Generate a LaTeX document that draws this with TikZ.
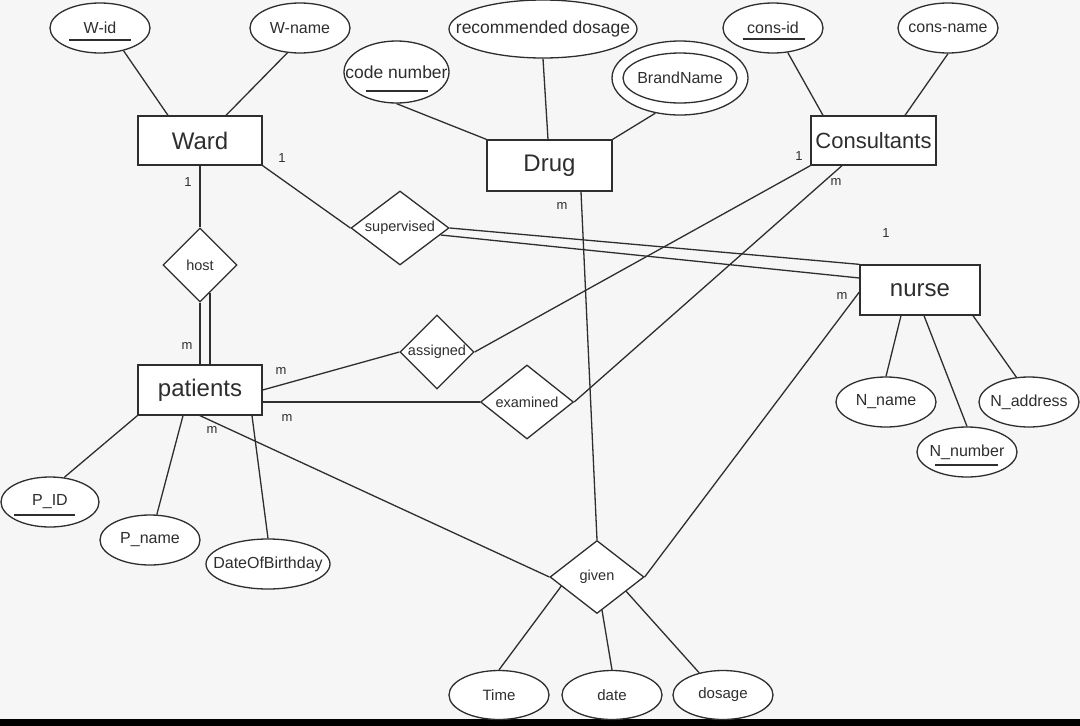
\documentclass[tikz,border=0pt]{standalone}
\usepackage{fontspec}
\setmainfont{Liberation Sans}
\usetikzlibrary{shapes.geometric}
\definecolor{bg}{HTML}{F6F6F6}
\definecolor{ink}{HTML}{2E2E2E}
\newcommand{\zb}[1]{\makebox[0pt]{#1}}
\tikzset{
  ent/.style={draw, fill=white, rectangle, minimum width=124pt, minimum height=49pt, inner sep=0pt, font=\fontsize{24}{28}\selectfont},
  attr/.style={draw, fill=white, ellipse, minimum width=100pt, minimum height=50pt, inner sep=0pt, font=\fontsize{16}{19}\selectfont},
  rel/.style={draw, fill=white, diamond, minimum width=74pt, minimum height=74pt, inner sep=0pt, font=\fontsize{14.5}{17}\selectfont},
  card/.style={inner sep=0pt, font=\fontsize{13}{15}\selectfont},
  conn/.style={line width=1.3pt},
  uline/.style={line width=1.2pt},
}
\begin{document}
\begin{tikzpicture}[x=1pt, y=-1pt, color=ink, line width=1.3pt]
\useasboundingbox (0,0) rectangle (1080,726);
\fill[bg] (0,0) rectangle (1080,726);
\fill[black] (0,719) rectangle (1080,726);

% entities
\node[ent] (ward) at (200,140.5) {Ward};
\node[ent, minimum width=125pt, minimum height=51pt] (drug) at (549.5,165.5) {Drug};
\node[ent, minimum width=125pt, font=\fontsize{22}{26}\selectfont] (cons) at (873.5,140.5) {Consultants};
\node[ent, minimum height=50pt] (patients) at (200,390) {patients};
\node[ent, minimum width=120pt, minimum height=50pt] (nurse) at (920,290) {nurse};

% attributes
\node[attr] (wid) at (100,28) {\zb{W-id}};
\node[attr] (wname) at (300,28) {\zb{W-name}};
\node[attr, minimum width=188pt, minimum height=58pt, font=\fontsize{17.5}{20}\selectfont] (rdos) at (543,29) {\zb{recommended dosage}};
\node[attr, minimum width=105pt, minimum height=62pt, font=\fontsize{17.5}{20}\selectfont] (codenum) at (396.5,72) {\zb{code number}};
\node[attr, minimum width=136pt, minimum height=74pt] (brand) at (680,78) {};
\node[attr, minimum width=114pt, minimum height=50pt] (brandin) at (680,78) {\zb{BrandName}};
\node[attr] (consid) at (773,28) {\zb{cons-id}};
\node[attr] (consname) at (948,28) {\zb{cons-name}};
\node[attr] (nname) at (886,402) {\zb{N\_name}};
\node[attr] (naddr) at (1029,402) {\zb{N\_address}};
\node[attr] (nnum) at (967,452) {\zb{N\_number}};
\node[attr, minimum width=98pt] (pid) at (50,502) {\zb{P\_ID}};
\node[attr] (pname) at (150,540) {\zb{P\_name}};
\node[attr, minimum width=124pt] (dob) at (268,564) {\zb{DateOfBirthday}};
\node[attr, minimum height=49pt, font=\fontsize{15}{18}\selectfont] (time) at (499,695) {\zb{Time}};
\node[attr, minimum height=49pt, font=\fontsize{15}{18}\selectfont] (date) at (612,695) {\zb{date}};
\node[attr, minimum height=49pt, font=\fontsize{15}{18}\selectfont] (dosage) at (723,695) {\zb{dosage}};

% relationships
\node[rel] (host) at (200,265) {\zb{host}};
\node[rel, minimum width=98pt] (sup) at (400,228) {\zb{supervised}};
\node[rel] (assigned) at (437,352) {\zb{assigned}};
\node[rel, minimum width=93pt] (examined) at (527,402) {\zb{examined}};
\node[rel, minimum width=94pt, minimum height=73pt] (given) at (597,577) {\zb{given}};

% underlines of keys
\draw[uline] ([xshift=-31pt,yshift=-12pt]wid.center) -- ++(62,0);
\draw[uline] ([xshift=-30pt,yshift=-11pt]consid.center) -- ++(62,0);
\draw[uline] ([xshift=-30.5pt,yshift=-19pt]codenum.center) -- ++(62,0);
\draw[uline] ([xshift=-36pt,yshift=-13pt]pid.center) -- ++(61,0);
\draw[uline] ([xshift=-32pt,yshift=-13pt]nnum.center) -- ++(63,0);

% attribute connectors
\draw[conn] (wid.-44) -- ([xshift=-32pt]ward.north);
\draw[conn] (wname.-117) -- ([xshift=26pt]ward.north);
\draw[conn] (codenum.south) -- (drug.north west);
\draw[conn] (rdos.south) -- ([xshift=-1.5pt]drug.north);
\draw[conn] (brand.-125) -- (drug.north east);
\draw[conn] (consid.-59) -- ([xshift=-50.5pt]cons.north);
\draw[conn] (consname.south) -- ([xshift=31.5pt]cons.north);
\draw[conn] ([xshift=-19pt]nurse.south) -- (nname.north);
\draw[conn] ([xshift=4pt]nurse.south) -- (nnum.north);
\draw[conn] ([xshift=53pt]nurse.south) -- (naddr.117);
\draw[conn] (patients.south west) -- (pid.60);
\draw[conn] ([xshift=-17pt]patients.south) -- (pname.75);
\draw[conn] ([xshift=52pt]patients.south) -- (dob.north);
\draw[conn] ([xshift=12pt,yshift=-9pt]given.west) -- (time.north);
\draw[conn] ([xshift=5pt,yshift=4pt]given.south) -- (date.north);
\draw[conn] ([xshift=29pt,yshift=23pt]given.south) -- (dosage.137);

% relationship connectors
\draw[conn] (ward.south) -- (host.north);
\draw[conn] (ward.south east) -- (sup.west);
\draw[conn] (host.south) -- (patients.north);
\draw[conn] ([xshift=10pt,yshift=10pt]host.south) -- ([xshift=10pt]patients.north);
\draw[conn] (sup.east) -- (nurse.north west);
\draw[conn] ([xshift=-9pt,yshift=-7pt]sup.east) -- ([yshift=12pt]nurse.west);
\draw[conn] (cons.south west) -- (assigned.east);
\draw[conn] ([xshift=-31.5pt]cons.south) -- (examined.east);
\draw[conn] (patients.east) -- (assigned.west);
\draw[conn] ([yshift=-12pt]patients.east) -- (examined.west);
\draw[conn] (patients.south) -- (given.west);
\draw[conn] ([xshift=31.5pt]drug.south) -- (given.north);
\draw[conn] ([yshift=-2pt]nurse.west) -- (given.east);

% cardinalities
\node[card] (c1) at (282,158) {1};
\node[card] (c2) at (188,182) {1};
\node[card] (c3) at (187,346) {m};
\node[card] (c4) at (799,156) {1};
\node[card] (c5) at (836,182) {m};
\node[card] (c6) at (562,206) {m};
\node[card] (c7) at (886,233) {1};
\node[card] (c8) at (842,296) {m};
\node[card] (c9) at (281,371) {m};
\node[card] (c10) at (287,418) {m};
\node[card] (c11) at (212,430) {m};
\end{tikzpicture}
\end{document}
